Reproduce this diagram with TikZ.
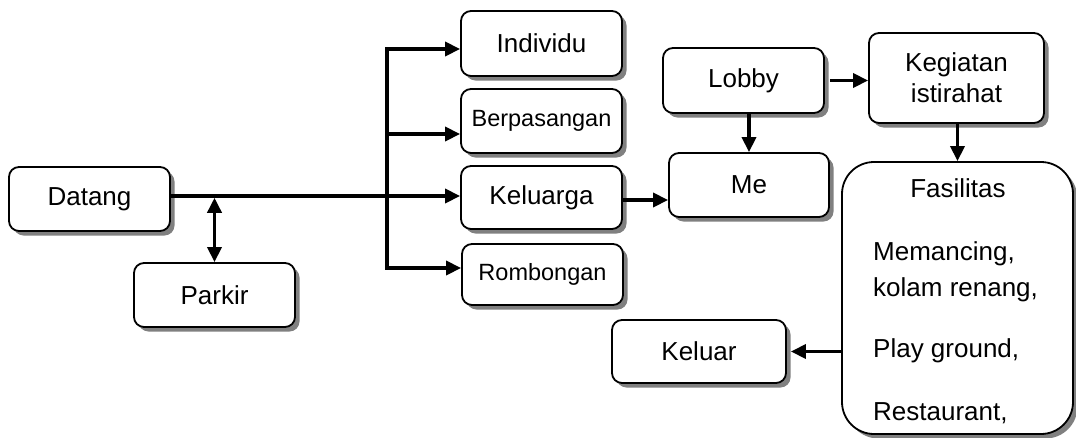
\documentclass[tikz,border=0pt]{standalone}
\usepackage{fontspec}
\setmainfont{Liberation Sans}
\usetikzlibrary{arrows.meta,shadows}
\begin{document}
\begin{tikzpicture}[x=1pt,y=-1pt,
  box/.style={draw=black, line width=1.8pt, fill=white, rounded corners=10pt,
    inner sep=0pt, minimum width=161pt, minimum height=64pt, align=center,
    font=\fontsize{26}{31}\selectfont,
    drop shadow={shadow xshift=4.5pt, shadow yshift=-4.5pt, fill=black!50, opacity=1}},
  smalltext/.style={font=\fontsize{23.5}{28}\selectfont},
  bodytext/.style={font=\fontsize{26}{31}\selectfont, inner sep=0pt},
  conn/.style={line width=3.5pt},
  arr/.style={conn, -{Triangle[length=15pt,width=14pt]}},
  dblarr/.style={conn, {Triangle[length=15pt,width=14pt]}-{Triangle[length=15pt,width=14pt]}}
]
\useasboundingbox (0,0) rectangle (1076,437);

% boxes
\node[box] (datang) at (89.5,199) {Datang};
\node[box] (parkir) at (214.5,295) {Parkir};
\node[box, minimum height=65pt] (individu) at (541.5,43.5) {Individu};
\node[box, smalltext] (berpasangan) at (541.5,121) {Berpasangan};
\node[box, minimum height=63pt] (keluarga) at (541.5,197.5) {Keluarga};
\node[box, smalltext, minimum height=61pt] (rombongan) at (542.5,274.5) {Rombongan};
\node[box, minimum height=65pt] (lobby) at (743.5,80.5) {Lobby};
\node[box, minimum width=160pt] (me) at (749,185) {Me};
\node[box, minimum width=175pt, minimum height=90pt] (kegiatan) at (956.5,78) {Kegiatan\\istirahat};
\node[box, minimum width=174pt, minimum height=63pt] (keluar) at (699,351.5) {Keluar};
\node[box, rounded corners=32pt, minimum width=231pt, minimum height=272pt] (fasilitas) at (957.5,298) {};

% facility list
\node[bodytext, anchor=base] (fastitle) at (958,197) {Fasilitas};
\node[bodytext, anchor=base west] (fas1) at (873,260) {Memancing,};
\node[bodytext, anchor=base west] (fas2) at (873,296) {kolam renang,};
\node[bodytext, anchor=base west] (fas3) at (873,357) {Play ground,};
\node[bodytext, anchor=base west] (fas4) at (873,420) {Restaurant,};

% trunk line and branching bus
\coordinate (trunk) at (387,196);
\coordinate (bustop) at (387,49);
\coordinate (busmid) at (387,134);
\coordinate (busbot) at (387,268);
\draw[arr] (datang.east |- trunk) -- (keluarga.west |- trunk);
\draw[conn] ([yshift=1.75pt]bustop) -- ([yshift=-1.75pt]busbot);
\draw[arr] (bustop) -- (individu.west |- bustop);
\draw[arr] (busmid) -- (berpasangan.west |- busmid);
\draw[arr] (busbot) -- (rombongan.west |- busbot);
\draw[dblarr] ([yshift=-1.75pt]parkir.north |- trunk) -- (parkir.north);

% right part
\coordinate (kme) at (622,200);
\draw[arr] (keluarga.east |- kme) -- (me.west |- kme);
\draw[arr] (lobby.south -| me.north) -- (me.north);
\draw[arr, shorten <=5pt] (lobby.east) -- (lobby.east -| kegiatan.west);
\draw[arr] (kegiatan.south -| fasilitas.north) -- (fasilitas.north);
\draw[arr, shorten >=4pt] (keluar.east -| fasilitas.west) -- (keluar.east);
\end{tikzpicture}
\end{document}
